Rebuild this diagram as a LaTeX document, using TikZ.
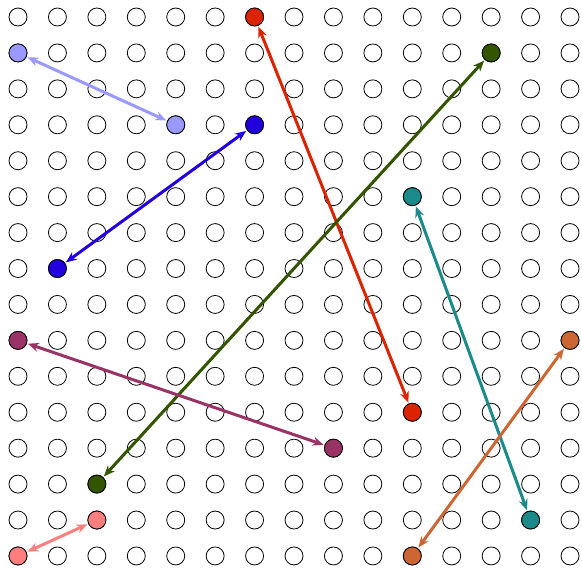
\documentclass[tikz,border=0pt]{standalone}
\usetikzlibrary{arrows.meta}
\definecolor{cLav}{HTML}{9999FF}
\definecolor{cRed}{HTML}{DD2200}
\definecolor{cGreen}{HTML}{335500}
\definecolor{cBlue}{HTML}{2200DD}
\definecolor{cTeal}{HTML}{1A8A8A}
\definecolor{cMaroon}{HTML}{993366}
\definecolor{cOrange}{HTML}{CC6633}
\definecolor{cPink}{HTML}{FF7F7F}
\tikzset{
  dot/.style={circle, draw=black, line width=0.8pt, minimum size=18pt, inner sep=0pt},
  link/.style={line width=3pt, {Stealth[length=11pt,width=9pt]}-{Stealth[length=11pt,width=9pt]}, shorten <=1pt, shorten >=1pt}
}
\begin{document}
\begin{tikzpicture}[x=1pt,y=-1pt]
\useasboundingbox (0,0) rectangle (582,568);
\foreach \c in {0,...,14}{
  \foreach \r in {0,...,15}{
    \node[dot] (n-\c-\r) at ({18+39.43*\c},{17+35.93*\r}) {};
  }
}
\node[dot, fill=cLav] (lav1) at (n-0-1) {};
\node[dot, fill=cLav] (lav2) at (n-4-3) {};
\node[dot, fill=cRed] (red1) at (n-6-0) {};
\node[dot, fill=cRed] (red2) at (n-10-11) {};
\node[dot, fill=cGreen] (grn1) at (n-12-1) {};
\node[dot, fill=cGreen] (grn2) at (n-2-13) {};
\node[dot, fill=cBlue] (blu1) at (n-6-3) {};
\node[dot, fill=cBlue] (blu2) at (n-1-7) {};
\node[dot, fill=cTeal] (tea1) at (n-10-5) {};
\node[dot, fill=cTeal] (tea2) at (n-13-14) {};
\node[dot, fill=cMaroon] (mar1) at (n-0-9) {};
\node[dot, fill=cMaroon] (mar2) at (n-8-12) {};
\node[dot, fill=cOrange] (ora1) at (n-14-9) {};
\node[dot, fill=cOrange] (ora2) at (n-10-15) {};
\node[dot, fill=cPink] (pnk1) at (n-2-14) {};
\node[dot, fill=cPink] (pnk2) at (n-0-15) {};
\draw[link, cLav] (lav1) -- (lav2);
\draw[link, cRed] (red1) -- (red2);
\draw[link, cGreen] (grn1) -- (grn2);
\draw[link, cBlue] (blu1) -- (blu2);
\draw[link, cTeal] (tea1) -- (tea2);
\draw[link, cMaroon] (mar1) -- (mar2);
\draw[link, cOrange] (ora1) -- (ora2);
\draw[link, cPink] (pnk1) -- (pnk2);
\end{tikzpicture}
\end{document}
